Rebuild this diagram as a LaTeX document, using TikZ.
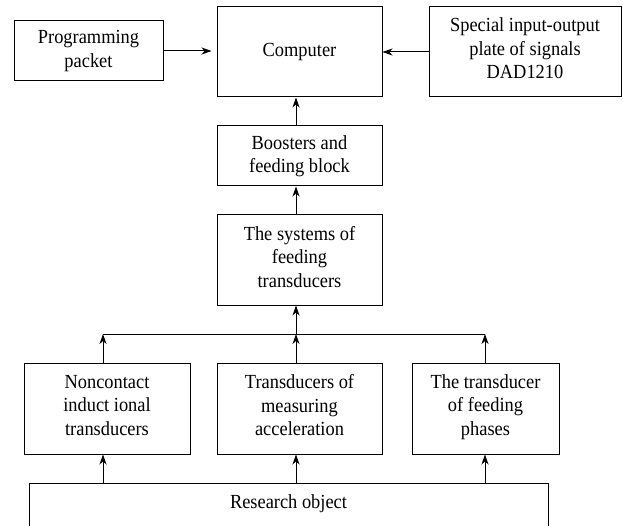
\documentclass[tikz,border=0pt]{standalone}
\usepackage{fontspec}
\setmainfont{Liberation Serif}[FakeStretch=0.92]
\usetikzlibrary{arrows.meta}
\begin{document}
\begin{tikzpicture}[x=1pt,y=-1pt,
  box/.style={draw, line width=1pt, align=center, inner sep=0pt,
    font=\fontsize{20}{23.5}\selectfont},
  three/.style={text depth=7pt},
  arr/.style={line width=1pt, -{Stealth[length=10pt,width=7pt,inset=3pt]}},
  ln/.style={line width=1pt}]
\useasboundingbox (0,0) rectangle (623,526);
\clip (0,0) rectangle (623,526);
\node[box, minimum width=149pt, minimum height=60pt] (pp) at (88.5,51) {Programming\\packet};
\node[box, minimum width=165pt, minimum height=90pt] (comp) at (299.5,52) {Computer};
\node[box, three, minimum width=192pt, minimum height=90pt] (spec) at (525,52) {Special input-output\\plate of signals\\DAD1210};
\node[box, minimum width=165pt, minimum height=60pt] (boost) at (299.5,156) {Boosters and\\feeding block};
\node[box, three, minimum width=165pt, minimum height=90pt] (sys) at (299.5,260) {The systems of\\feeding\\transducers};
\node[box, three, minimum width=166pt, minimum height=91pt] (non) at (107,408.5) {Noncontact\\induct ional\\transducers};
\node[box, three, minimum width=165pt, minimum height=91pt] (trans) at (299.5,408.5) {Transducers of\\measuring\\acceleration};
\node[box, three, minimum width=147pt, minimum height=91pt] (phase) at (485.5,408.5) {The transducer\\of feeding\\phases};
\node[box, anchor=north, minimum width=519pt, text height=25pt, text depth=35pt] (ro) at (288.5,483) {Research object};
\coordinate (jl) at (103,334);
\coordinate (jm) at (296,334);
\coordinate (jr) at (485,334);
\draw[ln] (jl) -- (jr);
\draw[arr] (jl |- non.north) -- (jl);
\draw[arr] (jm |- trans.north) -- (jm);
\draw[arr] (jr |- phase.north) -- (jr);
\draw[arr] (jm) -- (jm |- sys.south);
\draw[arr] (jm |- sys.north) -- (jm |- boost.south);
\draw[arr] (jm |- boost.north) -- (jm |- comp.south);
\draw[arr] (jl |- ro.north) -- (jl |- non.south);
\draw[arr] (jm |- ro.north) -- (jm |- trans.south);
\draw[arr] (jr |- ro.north) -- (jr |- phase.south);
\draw[arr, shorten >=5pt] (pp.east) -- (pp.east -| comp.west);
\draw[arr] (spec.west) -- (spec.west -| comp.east);
\end{tikzpicture}
\end{document}
